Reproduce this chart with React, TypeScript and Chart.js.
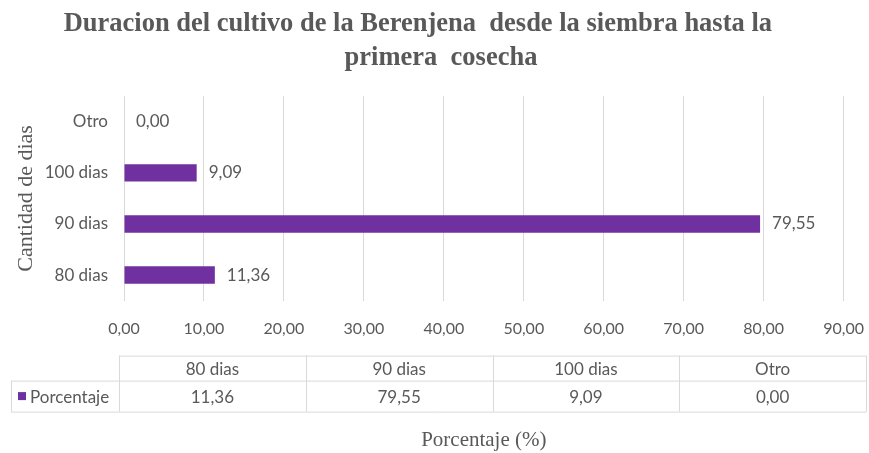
import React, { useEffect, useRef } from "react";
import { Chart, registerables } from "chart.js";

Chart.register(...registerables);

const categories = ["80 dias", "90 dias", "100 dias", "Otro"];
const percentValues = [11.36, 79.55, 9.09, 0.0];
const seriesName = "Porcentaje";
const chartTitle = ["Duracion del cultivo de la Berenjena  desde la siembra hasta la       ", "primera  cosecha"];
const xAxisTitle = "Porcentaje (%)";
const yAxisTitle = "Cantidad de dias";
const xMin = 0;
const xMax = 90;
const xStep = 10;

const PURPLE = "#7030A0";
const GRAY_TEXT = "#595959";
const GRID = "#d9d9d9";
const SANS = "Lato, 'Open Sans', sans-serif";
const SERIF = "'Liberation Serif', 'DejaVu Serif', serif";

const fmt = (v: number) => v.toFixed(2).replace(".", ",");

const barLabelPlugin = {
  id: "barLabels",
  afterDatasetsDraw(chart: any) {
    const ctx = chart.ctx;
    const meta = chart.getDatasetMeta(0);
    ctx.save();
    ctx.font = `17px ${SANS}`;
    ctx.fillStyle = GRAY_TEXT;
    ctx.textAlign = "left";
    ctx.textBaseline = "middle";
    meta.data.forEach((bar: any, i: number) => {
      ctx.fillText(fmt(percentValues[i]), bar.x + 12, bar.y);
    });
    ctx.restore();
  },
};

const dataTablePlugin = {
  id: "dataTable",
  afterDraw(chart: any) {
    const ctx = chart.ctx;
    const area = chart.chartArea;
    const top = area.bottom + 55;
    const mid = area.bottom + 80;
    const bottom = area.bottom + 111;
    const left = area.left - 5;
    const right = chart.width - 3;
    const legendLeft = 11;
    const n = categories.length;
    const colW = (right - left) / n;
    ctx.save();
    ctx.strokeStyle = GRID;
    ctx.lineWidth = 1;
    ctx.beginPath();
    ctx.moveTo(left, top + 0.5);
    ctx.lineTo(right, top + 0.5);
    ctx.moveTo(legendLeft, mid + 0.5);
    ctx.lineTo(right, mid + 0.5);
    ctx.moveTo(legendLeft, bottom + 0.5);
    ctx.lineTo(right, bottom + 0.5);
    ctx.moveTo(legendLeft + 0.5, mid);
    ctx.lineTo(legendLeft + 0.5, bottom);
    for (let i = 0; i <= n; i++) {
      const x = Math.round(left + i * colW) + 0.5;
      ctx.moveTo(x, top);
      ctx.lineTo(x, bottom);
    }
    ctx.stroke();

    ctx.font = `17px ${SANS}`;
    ctx.fillStyle = GRAY_TEXT;
    ctx.textAlign = "center";
    ctx.textBaseline = "middle";
    for (let i = 0; i < n; i++) {
      const cx = left + (i + 0.5) * colW;
      ctx.fillText(categories[i], cx, (top + mid) / 2 + 1);
      ctx.fillText(fmt(percentValues[i]), cx, (mid + bottom) / 2 + 1);
    }
    ctx.fillStyle = PURPLE;
    ctx.fillRect(legendLeft + 7, (mid + bottom) / 2 - 4, 8, 8);
    ctx.fillStyle = GRAY_TEXT;
    ctx.textAlign = "left";
    ctx.fillText(seriesName, legendLeft + 19, (mid + bottom) / 2 + 1);
    ctx.restore();
  },
};

export default function App() {
  const canvasRef = useRef<HTMLCanvasElement | null>(null);

  useEffect(() => {
    if (!canvasRef.current) return;
    const chart = new Chart(canvasRef.current, {
      type: "bar",
      data: {
        labels: categories,
        datasets: [
          {
            label: seriesName,
            data: percentValues,
            backgroundColor: PURPLE,
            borderWidth: 0,
            barPercentage: 1,
            categoryPercentage: 0.34,
          },
        ],
      },
      plugins: [barLabelPlugin, dataTablePlugin],
      options: {
        indexAxis: "y",
        responsive: true,
        maintainAspectRatio: false,
        animation: false,
        layout: { padding: { left: 13, right: 0, top: 0, bottom: 0 } },
        plugins: {
          legend: { display: false },
          tooltip: { enabled: false },
          title: {
            display: true,
            text: chartTitle,
            color: GRAY_TEXT,
            font: { family: SERIF, size: 26.5, weight: "bold", lineHeight: 1.25 },
            padding: { top: 8, bottom: 22 },
          },
        },
        scales: {
          x: {
            type: "linear",
            min: xMin,
            max: xMax,
            ticks: {
              stepSize: xStep,
              color: GRAY_TEXT,
              font: { family: SANS, size: 16 },
              padding: 5,
              callback: (v: any) => fmt(Number(v)),
            },
            grid: { color: GRID, drawTicks: true, tickLength: 14, tickColor: "rgba(0,0,0,0)" },
            border: { display: false },
            title: {
              display: true,
              text: xAxisTitle,
              color: GRAY_TEXT,
              font: { family: SERIF, size: 21 },
              padding: { top: 84, bottom: 0 },
            },
          },
          y: {
            type: "category",
            reverse: true,
            afterFit: (scale: any) => {
              scale.width = 111;
            },
            ticks: {
              color: GRAY_TEXT,
              font: { family: SANS, size: 17 },
              padding: 16,
            },
            grid: { display: false, drawTicks: false },
            border: { display: false },
            title: {
              display: true,
              text: yAxisTitle,
              color: GRAY_TEXT,
              font: { family: SERIF, size: 22 },
              padding: { top: 0, bottom: 6 },
            },
          },
        },
      } as any,
    });
    return () => chart.destroy();
  }, []);

  return (
    <div style={{ position: "fixed", left: 0, top: 0, width: 869, height: 453, background: "#fff" }}>
      <canvas ref={canvasRef} />
    </div>
  );
}
